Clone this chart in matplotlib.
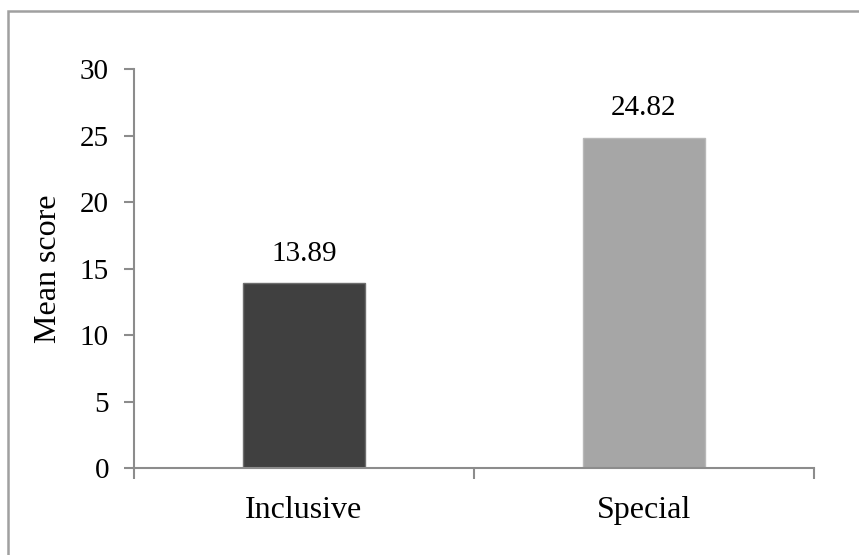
import matplotlib
matplotlib.use('Agg')
import matplotlib.pyplot as plt
from matplotlib.patches import Rectangle

# data
groups = ['Inclusive', 'Special']
means = [13.89, 24.82]
bar_colors = ['#404040', '#a6a6a6']
edge_colors = ['#6e6e6e', '#b8b8b8']
yticks = [0, 5, 10, 15, 20, 25, 30]

plt.rcParams['font.family'] = ['Liberation Serif', 'DejaVu Serif']
axis_grey = '#8c8c8c'

fig = plt.figure(figsize=(8.59, 5.55), dpi=100)
ax = fig.add_axes([134 / 859, 87 / 555, 680 / 859, 399 / 555])

xs = list(range(len(groups)))
bars = ax.bar(xs, means, width=0.36, color=bar_colors,
              edgecolor=edge_colors, linewidth=1.0, zorder=2)

for b, v in zip(bars, means):
    ax.annotate('%.2f' % v, (b.get_x() + b.get_width() / 2, v),
                xytext=(0, 12), textcoords='offset points',
                ha='center', va='bottom', fontsize=21)

ax.set_xlim(-0.5, len(groups) - 0.5)
ax.set_ylim(0, 30)
ax.set_yticks(yticks)
ax.set_xticks(xs)
ax.set_xticklabels(groups)
ax.set_xticks([x - 0.5 for x in range(len(groups) + 1)], minor=True)

for s in ['top', 'right']:
    ax.spines[s].set_visible(False)
for s in ['left', 'bottom']:
    ax.spines[s].set_color(axis_grey)
    ax.spines[s].set_linewidth(1.5)

ax.tick_params(axis='y', length=7, width=1.5, color=axis_grey, pad=11,
               labelsize=21, direction='out')
ax.tick_params(axis='x', which='major', length=0, pad=20, labelsize=23)
ax.tick_params(axis='x', which='minor', length=8, width=1.5,
               color=axis_grey, direction='out')

ax.set_ylabel('Mean score', fontsize=23)
ax.yaxis.set_label_coords(-0.104, 0.5)

# outer frame (only left and top edges are in view)
fig.patches.append(Rectangle((8 / 859, -0.1), 1.2, 1.1 - 11 / 555,
                             transform=fig.transFigure, fill=False,
                             edgecolor='#a0a0a0', linewidth=1.8))

fig.savefig('out.png', dpi=100)
